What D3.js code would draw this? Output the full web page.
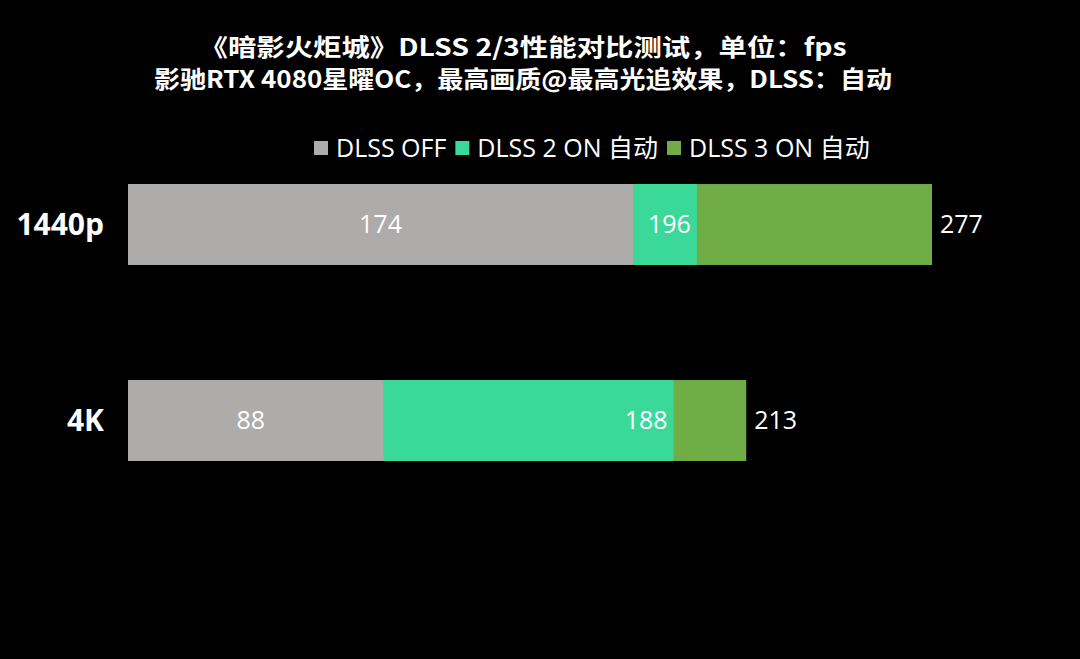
<!DOCTYPE html>
<html>
<head>
<meta charset="utf-8">
<script src="https://cdn.jsdelivr.net/npm/d3@7"></script>
<style>
  html, body { margin: 0; padding: 0; background: #000; }
  svg { display: block; }
</style>
</head>
<body>
<div id="chart"></div>
<script>
// Data
const categories = ['1440p', '4K'];
const seriesNames = ['DLSS OFF', 'DLSS 2 ON 自动', 'DLSS 3 ON 自动'];
const dlssOff = [174, 88];
const dlss2 = [196, 188];
const dlss3 = [277, 213];
const titleLines = [
  '《暗影火炬城》DLSS 2/3性能对比测试，单位：fps',
  '影驰RTX 4080星曜OC，最高画质@最高光追效果，DLSS：自动'
];

const width = 1080;
const height = 659;
const colors = ['#aeabab', '#3ad999', '#70ad47'];
const sansFont = '"Open Sans", "Noto Sans", "Noto Sans CJK SC", sans-serif';

const svg = d3.select('#chart')
  .append('svg')
  .attr('width', width)
  .attr('height', height);

svg.append('rect')
  .attr('width', width)
  .attr('height', height)
  .attr('fill', '#000');

// Title
svg.selectAll('.title')
  .data(titleLines)
  .enter()
  .append('text')
  .attr('class', 'title')
  .attr('x', 523)
  .attr('y', (_, i) => 56 + i * 32)
  .attr('text-anchor', 'middle')
  .attr('fill', '#fff')
  .attr('font-family', '"Noto Sans CJK SC", sans-serif')
  .attr('font-weight', 'bold')
  .attr('font-size', 24)
  .attr('textLength', (_, i) => (i === 0 ? 647 : 738))
  .attr('lengthAdjust', 'spacingAndGlyphs')
  .text((d) => d);

// Scales
const x = d3.scaleLinear()
  .domain([0, 277])
  .range([128, 932]);

const y = d3.scaleBand()
  .domain(categories)
  .range([126.5, 518.5])
  .paddingInner(0.587)
  .paddingOuter(0.2935);

// Series drawn back to front (overlapping bars)
const series = [dlss3, dlss2, dlssOff].map((vals, k) => ({
  idx: 2 - k,
  values: vals
}));

series.forEach((s) => {
  svg.append('g')
    .selectAll('rect')
    .data(s.values)
    .enter()
    .append('rect')
    .attr('x', x(0))
    .attr('y', (_, i) => y(categories[i]))
    .attr('width', (d) => x(d) - x(0))
    .attr('height', y.bandwidth())
    .attr('fill', colors[s.idx]);
});

const labelY = (i) => y(categories[i]) + y.bandwidth() / 2;

// DLSS OFF labels: centered
svg.append('g')
  .selectAll('text')
  .data(dlssOff)
  .enter()
  .append('text')
  .attr('x', (d) => (x(0) + x(d)) / 2 - (d < 100 ? 5 : 0))
  .attr('y', (_, i) => labelY(i))
  .attr('dy', '0.35em')
  .attr('text-anchor', 'middle')
  .attr('fill', '#fff')
  .attr('font-family', sansFont)
  .attr('font-size', 25)
  .text((d) => d);

// DLSS 2 labels: inside end
svg.append('g')
  .selectAll('text')
  .data(dlss2)
  .enter()
  .append('text')
  .attr('x', (d) => x(d) - 6)
  .attr('y', (_, i) => labelY(i))
  .attr('dy', '0.35em')
  .attr('text-anchor', 'end')
  .attr('fill', '#fff')
  .attr('font-family', sansFont)
  .attr('font-size', 25)
  .text((d) => d);

// DLSS 3 labels: outside end
svg.append('g')
  .selectAll('text')
  .data(dlss3)
  .enter()
  .append('text')
  .attr('x', (d) => x(d) + 8)
  .attr('y', (_, i) => labelY(i))
  .attr('dy', '0.35em')
  .attr('fill', '#fff')
  .attr('font-family', sansFont)
  .attr('font-size', 25)
  .text((d) => d);

// Category labels
svg.append('g')
  .selectAll('text')
  .data(categories)
  .enter()
  .append('text')
  .attr('x', 104)
  .attr('y', (d) => y(d) + y.bandwidth() / 2)
  .attr('dy', '0.35em')
  .attr('text-anchor', 'end')
  .attr('fill', '#fff')
  .attr('font-family', sansFont)
  .attr('font-weight', 'bold')
  .attr('font-size', 30)
  .text((d) => d);

// Legend
const legend = svg.append('g').attr('transform', 'translate(314,148)');
let lx = 0;
seriesNames.forEach((name, i) => {
  legend.append('rect')
    .attr('x', lx)
    .attr('y', -7)
    .attr('width', 14)
    .attr('height', 14)
    .attr('fill', colors[i]);
  const t = legend.append('text')
    .attr('x', lx + 22)
    .attr('y', 0)
    .attr('dy', '0.35em')
    .attr('fill', '#fff')
    .attr('font-family', sansFont)
    .attr('font-size', 25)
    .text(name);
  lx += 22 + t.node().getComputedTextLength() + 9;
});
</script>
</body>
</html>
